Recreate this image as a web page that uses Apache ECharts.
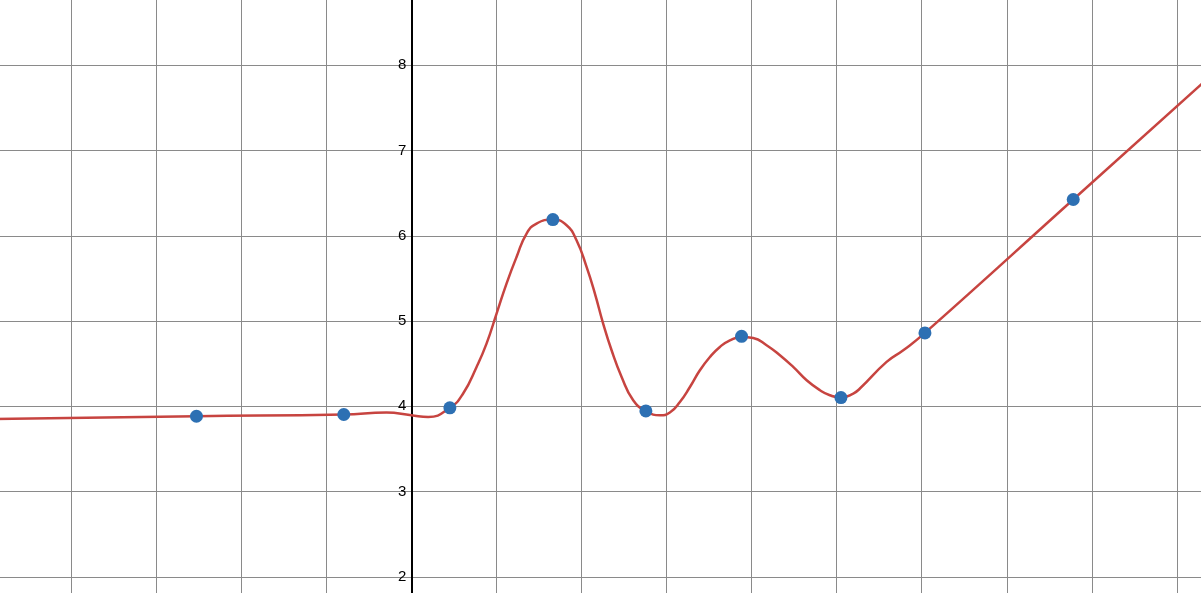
<!DOCTYPE html>
<html>
<head>
<meta charset="utf-8">
<script src="https://cdn.jsdelivr.net/npm/echarts@6/dist/echarts.min.js"></script>
<style>
html,body{margin:0;padding:0;background:#fff;overflow:hidden;width:1201px;height:593px;position:relative;}
#chart{position:absolute;left:-14px;top:-20px;width:1276px;height:682px;}
</style>
</head>
<body>
<div id="chart"></div>
<script>
// Data points (blue dots)
var pointX = [-2.526, -0.794, 0.453, 1.664, 2.757, 3.882, 5.050, 6.038, 7.781];
var pointY = [3.883, 3.903, 3.982, 6.190, 3.945, 4.820, 4.102, 4.860, 6.425];

// Curve (red line) samples
var curveX = [-4.9, -2.526, -0.794, -0.292, 0.0, 0.198, 0.453, 0.609, 0.767, 0.884, 1.002, 1.119, 1.237, 1.355, 1.472, 1.664,
  1.825, 1.942, 2.060, 2.158, 2.255, 2.354, 2.472, 2.608, 2.757, 2.922, 3.039, 3.157, 3.275, 3.392, 3.510, 3.627, 3.745, 3.882,
  4.019, 4.176, 4.333, 4.489, 4.647, 4.803, 4.920, 5.050, 5.195, 5.273, 5.587, 5.783, 6.038, 7.781, 9.4];
var curveY = [3.851, 3.883, 3.903, 3.926, 3.894, 3.874, 3.982, 4.149, 4.461, 4.735, 5.087, 5.439, 5.751, 6.026, 6.143, 6.190,
  6.123, 5.947, 5.634, 5.322, 4.970, 4.657, 4.344, 4.070, 3.945, 3.894, 3.926, 4.050, 4.226, 4.422, 4.578, 4.696, 4.774, 4.813,
  4.801, 4.716, 4.598, 4.461, 4.305, 4.188, 4.129, 4.102, 4.149, 4.208, 4.520, 4.657, 4.860, 6.425, 7.879];

// Axis ticks
var yTicks = [2, 3, 4, 5, 6, 7, 8];

var curveData = curveX.map(function (x, i) { return [x, curveY[i]]; });
var pointData = pointX.map(function (x, i) { return [x, pointY[i]]; });

var xMin = -5, xMax = 10, gridW = 1276;
var zeroOffset = (0 - xMin) / (xMax - xMin) * gridW;

var chart = echarts.init(document.getElementById('chart'), null, {renderer: 'canvas'});
chart.setOption({
  animation: false,
  backgroundColor: '#ffffff',
  grid: {left: 0, top: 0, right: 0, bottom: 0, containLabel: false},
  xAxis: {
    type: 'value', min: xMin, max: xMax, interval: 1,
    axisLine: {show: false}, axisTick: {show: false}, axisLabel: {show: false},
    splitLine: {show: true, lineStyle: {color: '#8a8a8a', width: 1}}
  },
  yAxis: {
    type: 'value', min: 1, max: 9, interval: 1, position: 'left', offset: -zeroOffset,
    axisLine: {show: true, onZero: false, lineStyle: {color: '#000', width: 2}},
    axisTick: {show: false},
    axisLabel: {
      show: true, margin: 5, color: '#000', fontSize: 15, fontFamily: 'Liberation Sans, Arial, sans-serif',
      formatter: function (v) { return yTicks.indexOf(v) >= 0 ? String(v) : ''; }
    },
    splitLine: {show: true, lineStyle: {color: '#8a8a8a', width: 1}}
  },
  series: [
    {
      type: 'line', data: curveData, showSymbol: false, symbol: 'none', smooth: 0.5,
      lineStyle: {color: '#c74440', width: 2.5}, z: 2
    },
    {
      type: 'scatter', data: pointData, symbolSize: 13,
      itemStyle: {color: '#2d70b3', opacity: 1}, z: 3
    }
  ]
});
</script>
</body>
</html>
